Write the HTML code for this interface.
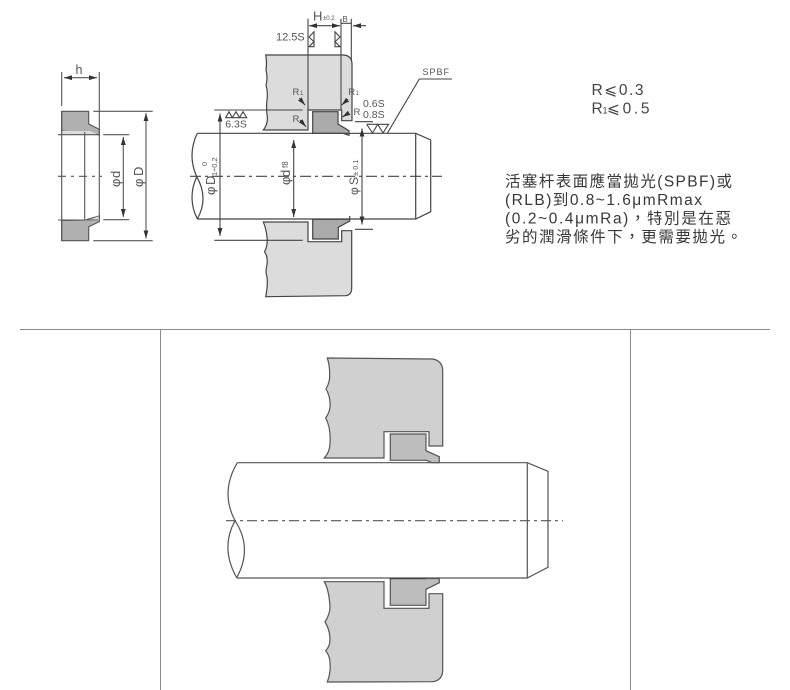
<!DOCTYPE html>
<html><head><meta charset="utf-8">
<style>
html,body{margin:0;padding:0;background:#fff}
svg{display:block}
text{font-family:"Liberation Sans","Noto Sans CJK TC","DejaVu Sans",sans-serif;fill:#555}
</style></head>
<body>
<svg width="790" height="690" viewBox="0 0 790 690" xmlns="http://www.w3.org/2000/svg">
<defs>
<marker id="a" viewBox="0 0 10 6" refX="10" refY="3" markerWidth="8" markerHeight="5" orient="auto-start-reverse" markerUnits="userSpaceOnUse"><path d="M0 0L10 3L0 6Z" fill="#333"/></marker>
</defs>
<rect width="790" height="690" fill="#fff"/>

<!-- frame -->
<g stroke="#8a8a8a" stroke-width="1" fill="none">
<path d="M20 329.5H770M160.5 329.5V690M630.5 329.5V690"/>
</g>

<!-- LEFT SEAL -->
<g stroke="#555" stroke-width="1.1">
<path d="M61.7 111.3H88.7V124L99.3 129.3V135L93 133.5L61.7 131Z" fill="#b0b0b0"/>
<path d="M61.7 240.7H88.7V226.7L99.3 221.7V216L90 218.5L84 220.5H61.7Z" fill="#b0b0b0"/>
<path d="M61.7 131H90L99.3 135H61.7ZM61.7 220.5H88L99.3 216V221Z" fill="#ddd" stroke="none"/>
</g>
<g stroke="#555" stroke-width="1.1" fill="none">
<path d="M61.7 72V106M61.7 111V241M99.3 72V222M84.7 132V220"/>
<path d="M58 134.7H100M58 220H98"/>
<path d="M93.3 111.3H152.7M93.3 240.7H152.7M103.3 134.7H129.3M103.3 219.7H129.3"/>
<path d="M64 77.7H97" marker-start="url(#a)" marker-end="url(#a)"/>
<path d="M146 113V238.5" marker-start="url(#a)" marker-end="url(#a)"/>
<path d="M123.3 137V217" marker-start="url(#a)" marker-end="url(#a)"/>
<path d="M58 176.3H102" stroke-dasharray="8 5 3 5"/>
</g>
<text x="75.5" y="74" font-size="12.5">h</text>
<text transform="translate(120,187) rotate(-90)" font-size="13">φ</text>
<text transform="translate(120,178) rotate(-90)" font-size="13">d</text>
<text transform="translate(143,187) rotate(-90)" font-size="13">φ</text>
<text transform="translate(143,176) rotate(-90)" font-size="13">D</text>

<!-- MAIN DIAGRAM -->
<g stroke="#444" stroke-width="1.2">
<path d="M265.7 55H343.3Q351.8 55.5 352 64V120.7H341.7V110H308V130H263.3Q268 124 267.3 116.7Q266 108 267 100Q268 92 266 85Q268 78 266 70Q267 62 265.7 55Z" fill="#dcdcdc"/>
<path d="M263.3 222H308V241.7H341.7V230.7H351.7V288Q351.7 295 345.7 295.7L265.7 296.7Q268 285 267 277Q265 272 267 265Q268 256 264.5 252Q268 245 267 237Q266 228 263.3 222Z" fill="#dcdcdc"/>
<path d="M312.7 111.7H338V124L349 130.7V135.3L343 133.3H312.7Z" fill="#ababab"/>
<path d="M312.7 219.3H349.7V216L349.7 221L338.3 227.3V239H312.7Z" fill="#ababab"/>
</g>
<g stroke="#444" stroke-width="1.2" fill="none">
<path d="M197.3 133.3H415.7L430.7 140V211.7L415.7 219H197.3"/>
<path d="M415.7 133.3V219"/>
<path d="M197.3 133.3Q187 155 196.7 176.7Q187 198 197.3 219M196.7 176.7Q209 198 197.3 219"/>
</g>
<g stroke="#444" stroke-width="1.1" fill="none">
<path d="M190 176.3H442" stroke-dasharray="11 4 3 4"/>
<path d="M308 18.7V110M341 18.7V110M351.3 18.7V60"/>
<path d="M309 25.7H340" marker-start="url(#a)" marker-end="url(#a)"/>
<path d="M366 25.7H353" marker-end="url(#a)"/>
<path d="M341 23.3H351"/>
<path d="M314 31.7L309 37L314 41.7L309 46.7H314Z"/>
<path d="M335 31.7L340 37L335 41.7L340 46.7H335Z"/>
<path d="M214.3 110H302.7M214.3 240.3H302.7"/>
<path d="M220 113.5V236" marker-start="url(#a)" marker-end="url(#a)"/>
<path d="M293.7 140V217" marker-start="url(#a)" marker-end="url(#a)"/>
<path d="M362 128.5V224.5" marker-start="url(#a)" marker-end="url(#a)"/>
<path d="M355 121.7H373M355 229.3H373"/>
<path d="M225.7 117.7L229 111.7L232.3 117.7L236 111.7L239.5 117.7L243 111.7L246.7 117.7Z"/>
<path d="M366.7 124.3H389.3M366.7 124.3L372.5 133L377.7 124.3L383 133L388.5 124.3"/>
<path d="M452 79H419.3L387.3 133.3"/>
<path d="M299.3 98.3L305 105" marker-end="url(#a)"/>
<path d="M300 120L306 126.7" marker-end="url(#a)"/>
<path d="M348 99.3L341.7 105" marker-end="url(#a)"/>
<path d="M348.3 113.3L342.3 117" marker-end="url(#a)"/>
</g>
<text x="313" y="20.5" font-size="13">H</text>
<text x="323" y="20" font-size="6" fill="#999">±0.2</text>
<text x="342.5" y="22" font-size="8">B</text>
<text x="276" y="40.5" font-size="11">12.5S</text>
<text x="225.3" y="127.5" font-size="10.5">6.3S</text>
<text x="292.5" y="95" font-size="9.5">R</text><text x="300" y="95" font-size="6">1</text>
<text x="292.5" y="122" font-size="9.5">R</text>
<text x="348.3" y="95" font-size="9.5">R</text><text x="355.5" y="95" font-size="6">1</text>
<text x="353.5" y="115" font-size="9.5">R</text>
<text x="363" y="107" font-size="10.5">0.6S</text>
<text x="363" y="118" font-size="10.5">0.8S</text>
<text x="422.5" y="75" font-size="9" letter-spacing="1">SPBF</text>
<text transform="translate(215,195) rotate(-90)" font-size="13">φ</text>
<text transform="translate(215,185) rotate(-90)" font-size="13">D</text>
<text transform="translate(207,166) rotate(-90)" font-size="7.5">0</text>
<text transform="translate(217,176) rotate(-90)" font-size="7.5">1÷0.2</text>
<text transform="translate(290,185) rotate(-90)" font-size="13">φ</text>
<text transform="translate(290,177) rotate(-90)" font-size="13">d</text>
<text transform="translate(288,168) rotate(-90)" font-size="8">f8</text>
<text transform="translate(358,195) rotate(-90)" font-size="12">φ</text>
<text transform="translate(358,185) rotate(-90)" font-size="12">S</text>
<text transform="translate(358,176) rotate(-90)" font-size="7.5">± 0.1</text>

<!-- RIGHT TEXT -->
<text x="591.5" y="95" style="fill:#444" font-size="15.5" textLength="52" lengthAdjust="spacing">R⩽0.3</text>
<text x="591.5" y="113.5" style="fill:#444" font-size="15.5">R</text><text x="602.5" y="113.5" style="fill:#444" font-size="9">1</text><text x="607" y="113.5" style="fill:#444" font-size="15.5" textLength="42.5" lengthAdjust="spacing">⩽0.5</text>
<text x="505" y="186.5" style="fill:#383838" font-size="15.5" textLength="227" lengthAdjust="spacing">活塞杆表面應當拋光(SPBF)或</text>
<text x="505" y="205" style="fill:#383838" font-size="15.5" textLength="197" lengthAdjust="spacing">(RLB)到0.8~1.6μmRmax</text>
<text x="505" y="223.5" style="fill:#383838" font-size="15.5" textLength="226" lengthAdjust="spacing">(0.2~0.4μmRa)，特別是在惡</text>
<text x="505" y="242" style="fill:#383838" font-size="15.5" textLength="237" lengthAdjust="spacing">劣的潤滑條件下，更需要拋光。</text>

<!-- LOWER DIAGRAM -->
<g stroke="#555" stroke-width="1.2">
<path d="M327.3 358L433 359Q442.7 361 442.7 371V446H429V431.7H384V458H324.3Q330 452 330 443Q331 428 325.7 418Q331 410 330 403Q330 396 326 389Q330 382 329.7 375Q329.7 365 327.3 358Z" fill="#d0d0d0"/>
<path d="M324.3 581.7H384V608.3H429V593.7H442.7V670Q442.7 680 433 681.7L327.3 682Q331 672 330 663Q330 656 325.7 650.7Q330 646 330 640Q330 630 325 622Q330 614 330 607Q329 590 324.3 581.7Z" fill="#d0d0d0"/>
<path d="M390.3 434H426V450.7L439.3 456.7V462.7H431.7L426.7 460.3H390.3Z" fill="#bdbdbd"/>
<path d="M390.3 578.5H439.3V582.7L426 589.3V605.3H390.3Z" fill="#bdbdbd"/>
</g>
<path d="M390.3 578.5H426" stroke="#222" stroke-width="1.2"/>
<g stroke="#555" stroke-width="1.2" fill="none">
<path d="M237.3 462.7H527.3L548 471.3V567.3L527.3 578H236.7"/>
<path d="M527.3 462.7V578"/>
<path d="M237.3 462.7Q220 492 235 520.7Q220 548 236.7 577.7M235 520.7Q253 548 236.7 577.7"/>
<path d="M226 520.7H563" stroke-dasharray="10 4 3 4"/>
</g>
</svg>
</body></html>
